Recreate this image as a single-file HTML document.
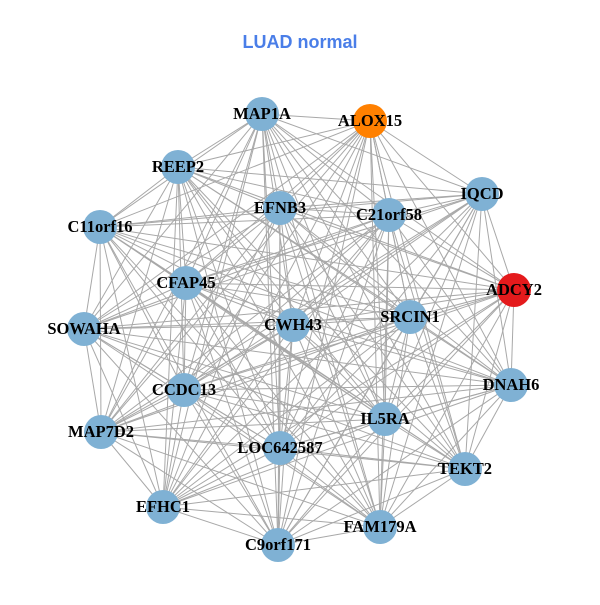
<!DOCTYPE html>
<html><head><meta charset="utf-8"><style>
html,body{margin:0;padding:0;background:#fff;}
</style></head><body>
<svg id="g" width="600" height="600" xmlns="http://www.w3.org/2000/svg">
<rect width="600" height="600" fill="#fff"/>
<text x="300" y="48" text-anchor="middle" font-family="Liberation Sans, sans-serif" font-weight="bold" font-size="18" fill="#4a7ee8">LUAD normal</text>
<g id="edges" stroke="#a8a8a8" stroke-width="1"></g>
<g id="nodes"></g>
</svg>
<script>
var N=[["MAP1A",262,114,"#7fb1d4"],["ALOX15",370,121,"#ff8000"],["REEP2",178,167],["IQCD",482,194],["EFNB3",280,208],["C21orf58",389,215],["C11orf16",100,227],["ADCY2",514,290,"#e41a1c"],["CFAP45",186,283],["SRCIN1",410,317],["CWH43",293,325],["SOWAHA",84,329],["CCDC13",184,390],["DNAH6",511,385],["IL5RA",385,419],["MAP7D2",101,432],["LOC642587",280,448],["TEKT2",465,469],["EFHC1",163,507],["FAM179A",380,527],["C9orf171",278,545]];
var ns="http://www.w3.org/2000/svg",E=document.getElementById("edges"),G=document.getElementById("nodes");
for(var i=0;i<N.length;i++)for(var j=i+1;j<N.length;j++){var l=document.createElementNS(ns,"line");l.setAttribute("x1",N[i][1]);l.setAttribute("y1",N[i][2]);l.setAttribute("x2",N[j][1]);l.setAttribute("y2",N[j][2]);E.appendChild(l);}
N.forEach(function(n){var c=document.createElementNS(ns,"circle");c.setAttribute("cx",n[1]);c.setAttribute("cy",n[2]);c.setAttribute("r",17);c.setAttribute("fill",n[3]||"#7fb1d4");G.appendChild(c);});
N.forEach(function(n){var t=document.createElementNS(ns,"text");t.setAttribute("x",n[1]);t.setAttribute("y",n[2]+5);t.setAttribute("text-anchor","middle");t.setAttribute("font-family","Liberation Serif, serif");t.setAttribute("font-weight","bold");t.setAttribute("font-size","16.5");t.textContent=n[0];G.appendChild(t);});
</script>
</body></html>
